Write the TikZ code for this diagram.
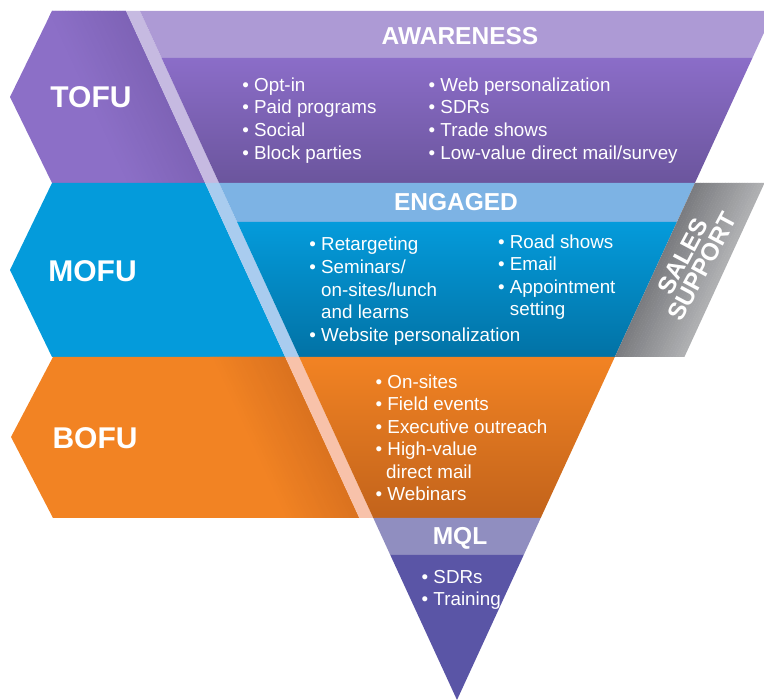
\documentclass[tikz,border=0pt]{standalone}
\usepackage{fontspec}
\setmainfont{Liberation Sans}
\definecolor{tofuL}{HTML}{8C6FC7}
\definecolor{tofuR}{HTML}{7E63B6}
\definecolor{tofuS}{HTML}{C6BAE1}
\definecolor{awH}{HTML}{AD9AD5}
\definecolor{awB}{HTML}{8B6DC8}
\definecolor{awD}{HTML}{6B559D}
\definecolor{mofu}{HTML}{049BDB}
\definecolor{mofuS}{HTML}{A9CCEF}
\definecolor{enH}{HTML}{7DB3E4}
\definecolor{mofuD}{HTML}{0272A5}
\definecolor{bofu}{HTML}{F28323}
\definecolor{bofuR}{HTML}{DA721F}
\definecolor{bofuS}{HTML}{F8C2AA}
\definecolor{bofuD}{HTML}{C2631B}
\definecolor{mqlH}{HTML}{908EC0}
\definecolor{mql}{HTML}{5A55A6}
\definecolor{grayD}{HTML}{7B7C80}
\definecolor{grayL}{HTML}{B1B2B4}
\begin{document}
\begin{tikzpicture}[x=1pt,y=1pt,
  hdr/.style={text=white,font=\fontsize{24.5}{28}\selectfont\bfseries,anchor=base,inner sep=0},
  stage/.style={text=white,font=\fontsize{30}{34}\selectfont\bfseries,anchor=base,inner sep=0},
  item/.style={text=white,font=\fontsize{18.8}{22.6}\selectfont,anchor=base west,inner sep=0}]
\useasboundingbox (0,0) rectangle (764,-700);

% ---------- TOFU band ----------
\begin{scope}
  \clip (52,-11) -- (10,-97) -- (52,-183) -- (205.1,-183) -- (126,-11) -- cycle;
  \fill[tofuL] (0,0) rectangle (230,-190);
  \foreach \k in {0,...,24} {
    \pgfmathsetmacro\a{80*(1-\k/25)}
    \pgfmathsetmacro\b{80*(1-(\k+1)/25)-0.4}
    \pgfmathtruncatemacro\p{\k*4}
    \fill[tofuR!\p!tofuL] (126-\a,-11) -- (126-\b,-11) -- (205.1-\b,-183) -- (205.1-\a,-183) -- cycle;
  }
\end{scope}
\fill[tofuS] (126,-11) -- (140,-11) -- (219.1,-183) -- (205.1,-183) -- cycle;
\fill[awH] (140,-11) -- (764,-11) -- (764,-32.7) -- (752.4,-58) -- (161.6,-58) -- cycle;
\shade[top color=awB, middle color=awB, bottom color=awD]
  (161.6,-58) -- (752.4,-58) -- (694.9,-183) -- (219.1,-183) -- cycle;

% ---------- MOFU band ----------
\fill[mofu] (52,-183) -- (10,-270) -- (52,-357) -- (285.2,-357) -- (205.1,-183) -- cycle;
\fill[mofuS] (205.1,-183) -- (219.1,-183) -- (299.2,-357) -- (285.2,-357) -- cycle;
\fill[enH] (219.1,-183) -- (694.9,-183) -- (676.9,-222) -- (237.1,-222) -- cycle;
\shade[top color=mofu, middle color=mofu, bottom color=mofuD]
  (237.1,-222) -- (676.9,-222) -- (614.8,-357) -- (299.2,-357) -- cycle;

% ---------- Sales support band ----------
\foreach \k in {0,...,24} {
  \pgfmathsetmacro\a{69.2*\k/25}
  \pgfmathsetmacro\b{69.2*(\k+1)/25+0.4}
  \pgfmathtruncatemacro\p{\k*4}
  \fill[grayL!\p!grayD] (614.8+\a,-357) -- (614.8+\b,-357) -- (694.9+\b,-183) -- (694.9+\a,-183) -- cycle;
}

% ---------- BOFU band ----------
\begin{scope}
  \clip (53,-357) -- (11,-437) -- (53,-518) -- (359.3,-518) -- (285.2,-357) -- cycle;
  \fill[bofu] (0,-350) rectangle (370,-525);
  \foreach \k in {0,...,24} {
    \pgfmathsetmacro\a{75*(1-\k/25)}
    \pgfmathsetmacro\b{75*(1-(\k+1)/25)-0.4}
    \pgfmathtruncatemacro\p{\k*4}
    \fill[bofuR!\p!bofu] (285.2-\a,-357) -- (285.2-\b,-357) -- (359.3-\b,-518) -- (359.3-\a,-518) -- cycle;
  }
\end{scope}
\fill[bofuS] (285.2,-357) -- (299.2,-357) -- (373.3,-518) -- (359.3,-518) -- cycle;
\shade[top color=bofu, middle color=bofu!92!bofuD, bottom color=bofuD]
  (299.2,-357) -- (614.8,-357) -- (540.7,-518) -- (373.3,-518) -- cycle;

% ---------- MQL ----------
\fill[mqlH] (373.3,-518) -- (540.7,-518) -- (523.7,-555) -- (390.3,-555) -- cycle;
\fill[mql] (390.3,-555) -- (523.7,-555) -- (457,-700) -- cycle;

% ---------- labels ----------
\node[stage] (tofu) at (91,-108) {TOFU};
\node[stage] (mofu) at (92.5,-282) {MOFU};
\node[stage] (bofu) at (95,-449) {BOFU};

\node[hdr] (aw) at (460,-45) {AWARENESS};
\node[hdr] (en) at (456,-211) {ENGAGED};
\node[hdr] (mq) at (460,-545) {MQL};

\node[rotate=62, text=white, font=\fontsize{24.5}{22}\selectfont\bfseries, align=center, inner sep=0]
  (ss) at (692.5,-261.5) {SALES\\SUPPORT};

% TOFU items
\node[item] (a1) at (242.2,-91.5) {• Opt-in};
\node[item] (a2) at (242.2,-114) {• Paid programs};
\node[item] (a3) at (242.2,-137) {• Social};
\node[item] (a4) at (242.2,-160) {• Block parties};
\node[item] (b1) at (428.5,-91.5) {• Web personalization};
\node[item] (b2) at (428.5,-114) {• SDRs};
\node[item] (b3) at (428.5,-137) {• Trade shows};
\node[item] (b4) at (428.5,-160) {• Low-value direct mail/survey};

% MOFU items
\node[item] (c1) at (309.2,-251) {• Retargeting};
\node[item] (c2) at (309.2,-274) {• Seminars/};
\node[item] (c3) at (321,-296.5) {on-sites/lunch};
\node[item] (c4) at (321,-319) {and learns};
\node[item] (c5) at (309.2,-341.5) {• Website personalization};
\node[item] (d1) at (497.9,-248.5) {• Road shows};
\node[item] (d2) at (497.9,-271) {• Email};
\node[item] (d3) at (497.9,-293.5) {• Appointment};
\node[item] (d4) at (509.7,-316) {setting};

% BOFU items
\node[item] (e1) at (375.5,-388.3) {• On-sites};
\node[item] (e2) at (375.5,-411) {• Field events};
\node[item] (e3) at (375.5,-433.5) {• Executive outreach};
\node[item] (e4) at (375.5,-456) {• High-value};
\node[item] (e5) at (386,-479) {direct mail};
\node[item] (e6) at (375.5,-501) {• Webinars};

% MQL items
\node[item] (f1) at (421.5,-583.3) {• SDRs};
\node[item] (f2) at (421.5,-606) {• Training};
\end{tikzpicture}
\end{document}
